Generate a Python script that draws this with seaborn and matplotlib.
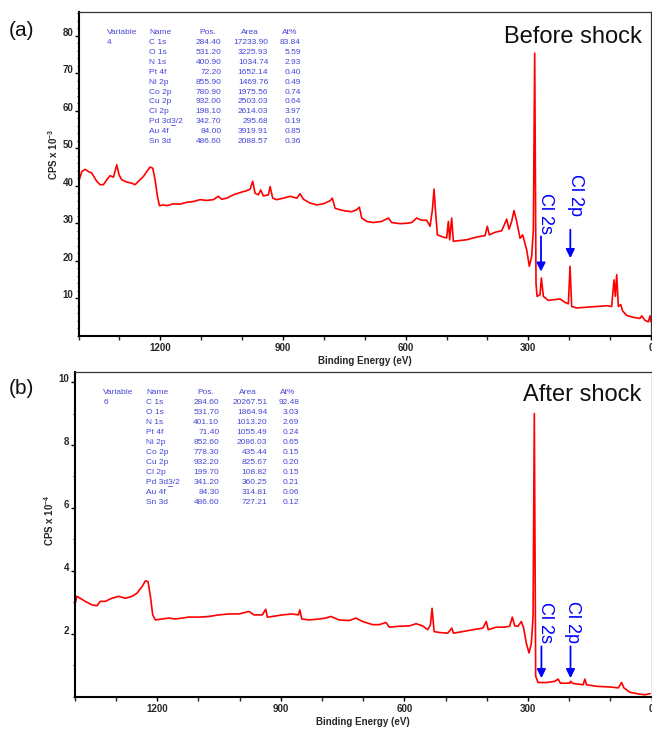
import matplotlib
matplotlib.use("Agg")
import matplotlib.pyplot as plt
import seaborn as sns
import pandas as pd
from matplotlib.ticker import MultipleLocator, FixedLocator
from matplotlib.lines import Line2D

# Survey spectrum before shock: binding energy (eV) and intensity (CPS x 10^3)
be_before = [1399.4, 1392.0, 1383.9, 1375.7, 1367.6, 1355.3, 1347.2, 1339.1, 1330.9, 1322.7,
             1314.6, 1306.4, 1300.7, 1294.2, 1282.0, 1269.8, 1261.6, 1253.5, 1241.2, 1233.1,
             1224.9, 1218.4, 1212.7, 1207.0, 1202.1, 1192.4, 1184.2, 1167.9, 1151.6, 1135.3,
             1119.0, 1102.7, 1086.4, 1070.1, 1057.9, 1049.7, 1037.5, 1021.2, 1004.9, 988.6,
             980.4, 973.9, 968.2, 960.1, 954.4, 947.9, 935.6, 931.5, 925.0, 915.2,
             898.9, 882.6, 866.3, 858.2, 850.0, 833.7, 817.4, 801.2, 784.8, 779.2,
             772.6, 760.4, 748.2, 731.9, 719.6, 713.1, 707.4, 695.2, 678.9, 658.5,
             642.2, 634.1, 613.7, 597.4, 585.2, 572.9, 560.7, 548.5, 540.3, 534.6,
             530.6, 526.5, 522.4, 507.8, 499.6, 495.5, 492.3, 487.4, 483.3, 467.0,
             450.7, 434.4, 418.1, 405.9, 400.2, 395.3, 381.4, 365.1, 352.9, 347.2,
             340.7, 335.0, 328.4, 320.3, 313.8, 304.0, 297.5, 291.8, 287.7, 284.4,
             281.2, 278.7, 271.4, 268.1, 263.2, 251.0, 238.8, 222.5, 210.3, 202.1,
             198.0, 194.0, 181.7, 157.3, 132.8, 108.4, 96.2, 90.5, 87.2, 83.9,
             79.9, 74.2, 69.3, 59.5, 43.2, 26.9, 22.8, 14.7, 6.5, 2.4, 0.2]
cps_before = [41.2, 43.8, 44.4, 43.8, 43.4, 41.2, 40.3, 40.3, 41.6, 42.7,
              42.3, 45.6, 42.9, 41.6, 41.0, 40.7, 40.3, 41.2, 42.5, 43.8,
              45.0, 44.7, 41.6, 37.2, 34.7, 34.9, 34.7, 35.2, 35.1, 35.6,
              35.8, 36.3, 36.1, 36.3, 37.2, 36.4, 36.7, 37.6, 38.2, 38.7,
              39.1, 41.2, 38.0, 37.6, 38.9, 37.3, 37.6, 39.8, 36.7, 36.3,
              36.7, 37.2, 36.7, 37.9, 36.4, 35.4, 34.9, 35.2, 36.0, 36.7,
              34.0, 33.6, 33.3, 33.1, 33.6, 34.3, 31.4, 30.5, 30.2, 30.5,
              31.4, 30.2, 29.9, 30.0, 30.2, 31.4, 30.8, 30.8, 29.2, 33.6,
              39.1, 32.6, 26.9, 26.3, 26.1, 30.5, 25.6, 31.4, 25.2, 25.4,
              25.6, 26.1, 26.5, 26.7, 29.2, 26.9, 27.6, 28.0, 31.1, 28.4,
              30.5, 33.4, 30.5, 26.0, 26.9, 22.9, 18.5, 21.2, 28.3, 75.4,
              14.0, 10.5, 10.9, 15.4, 10.5, 9.4, 9.6, 9.8, 8.9, 8.5,
              18.5, 7.8, 7.4, 7.6, 7.8, 8.0, 7.8, 14.9, 10.5, 16.3,
              7.8, 8.3, 6.6, 5.4, 4.9, 4.6, 5.3, 4.1, 3.7, 5.3, 3.7]

# Survey spectrum after shock: binding energy (eV) and intensity (CPS x 10^4)
be_after = [1399.5, 1394.8, 1386.7, 1374.5, 1358.3, 1346.1, 1338.0, 1325.8, 1309.6, 1293.4,
            1277.2, 1260.9, 1248.8, 1236.6, 1228.5, 1222.0, 1216.3, 1210.7, 1204.2, 1188.0,
            1171.7, 1155.5, 1139.3, 1123.1, 1098.7, 1074.4, 1050.1, 1025.8, 1001.4, 977.1,
            964.9, 944.7, 936.5, 932.5, 920.3, 896.0, 871.7, 857.1, 853.8, 848.9,
            831.1, 806.8, 790.6, 778.4, 758.1, 733.8, 717.6, 701.4, 677.0, 660.8,
            644.6, 636.5, 612.1, 587.8, 571.6, 555.4, 543.2, 536.7, 532.7, 527.8,
            514.8, 494.5, 484.8, 480.8, 458.1, 433.7, 409.4, 401.3, 396.4, 376.9,
            356.7, 344.5, 338.0, 332.3, 324.2, 316.1, 310.5, 304.0, 297.5, 291.8,
            287.7, 284.6, 281.3, 275.6, 255.3, 235.0, 226.9, 221.2, 198.5, 196.9,
            190.4, 166.1, 162.0, 158.0, 133.6, 101.2, 80.9, 72.8, 67.2, 52.6,
            28.2, 16.1, 3.9]
cps_after = [2.92, 3.19, 3.13, 3.03, 2.92, 2.89, 3.03, 3.03, 3.13, 3.19,
             3.13, 3.19, 3.29, 3.50, 3.68, 3.66, 3.19, 2.60, 2.44, 2.47,
             2.50, 2.47, 2.50, 2.53, 2.53, 2.55, 2.60, 2.63, 2.63, 2.71,
             2.60, 2.60, 2.78, 2.53, 2.55, 2.60, 2.63, 2.60, 2.76, 2.47,
             2.44, 2.47, 2.50, 2.55, 2.44, 2.42, 2.50, 2.39, 2.29, 2.29,
             2.36, 2.21, 2.24, 2.25, 2.32, 2.25, 2.13, 2.29, 2.81, 2.07,
             2.04, 2.02, 2.18, 2.02, 2.07, 2.13, 2.18, 2.39, 2.13, 2.21,
             2.21, 2.24, 2.53, 2.25, 2.24, 2.39, 2.18, 1.70, 1.39, 1.70,
             2.55, 9.00, 0.65, 0.45, 0.45, 0.49, 0.56, 0.43, 0.43, 0.49,
             0.42, 0.38, 0.56, 0.38, 0.33, 0.31, 0.28, 0.45, 0.28, 0.14,
             0.08, 0.06, 0.10]

# Peak quantification tables
peak_names = ["C 1s", "O 1s", "N 1s", "Pt 4f", "Ni 2p", "Co 2p", "Cu 2p", "Cl 2p",
              "Pd 3d3/2", "Au 4f", "Sn 3d"]
pos_before = [284.40, 531.20, 400.90, 72.20, 855.90, 780.90, 932.00, 198.10, 342.70, 84.00, 486.60]
area_before = [17233.90, 3225.93, 1034.74, 1652.14, 1469.76, 1975.56, 2503.03, 2614.03,
               295.68, 3919.91, 2088.57]
at_before = [83.84, 5.59, 2.93, 0.40, 0.49, 0.74, 0.64, 3.97, 0.19, 0.85, 0.36]
pos_after = [284.60, 531.70, 401.10, 71.40, 852.60, 778.30, 932.20, 199.70, 341.20, 84.30, 486.60]
area_after = [20267.51, 1864.94, 1013.20, 1055.49, 2086.03, 435.44, 825.67, 108.82,
              360.25, 314.81, 727.21]
at_after = [92.48, 3.03, 2.69, 0.24, 0.65, 0.15, 0.20, 0.15, 0.21, 0.06, 0.12]
variable_ids = ["4", "6"]
x_ticks = [1200, 900, 600, 300, 0]

sns.set_theme(style="ticks")
plt.rcParams["font.family"] = ["Liberation Sans", "DejaVu Sans"]
plt.rcParams["mathtext.fontset"] = "custom"
plt.rcParams["mathtext.rm"] = "Liberation Sans"
plt.rcParams["mathtext.it"] = "Liberation Sans:italic"
plt.rcParams["mathtext.bf"] = "Liberation Sans:bold"

W, H = 652, 730
fig = plt.figure(figsize=(W / 100, H / 100), dpi=100)
fig.patch.set_facecolor("white")
renderer = fig.canvas.get_renderer()


def fx(px):
    return px / W


def fy(py):
    return 1 - py / H


def make_axes(left, top, right, bottom):
    return fig.add_axes([fx(left), fy(bottom), fx(right) - fx(left), fy(top) - fy(bottom)])


ax_a = make_axes(78.5, 12.3, 651, 335.7)
ax_b = make_axes(74.7, 371.7, 651.6, 696.7)

df_a = pd.DataFrame({"be": be_before, "cps": cps_before})
df_b = pd.DataFrame({"be": be_after, "cps": cps_after})

for ax, df in ((ax_a, df_a), (ax_b, df_b)):
    sns.lineplot(data=df, x="be", y="cps", ax=ax, color="#ff0000", lw=1.2,
                 sort=False, estimator=None)


def style_axes(ax, ymax, yticks, yminor, ylabel, label_y):
    ax.set_facecolor("white")
    ax.set_xlim(1400, 0)
    ax.set_ylim(0, ymax)
    ax.xaxis.set_major_locator(FixedLocator(x_ticks))
    ax.xaxis.set_minor_locator(MultipleLocator(100))
    ax.yaxis.set_major_locator(FixedLocator(yticks))
    ax.yaxis.set_minor_locator(MultipleLocator(yminor))
    ax.set_xticklabels([str(t) for t in x_ticks])
    ax.set_yticklabels([str(t) for t in yticks])
    ax.tick_params(axis="both", which="major", direction="out", length=3.2, width=1.0,
                   labelsize=7, color="black")
    ax.tick_params(axis="x", which="minor", direction="out", length=3.2, width=1.0)
    ax.tick_params(axis="y", which="minor", direction="out", length=1.8, width=0.8)
    ax.tick_params(axis="x", which="major", pad=2.3)
    ax.tick_params(axis="y", which="major", pad=0.5)
    for lab in ax.get_xticklabels() + ax.get_yticklabels():
        lab.set_fontweight("bold")
    for lab in ax.get_yticklabels():
        lab.set_verticalalignment("baseline")
    ax.set_xlabel("Binding Energy (eV)", fontsize=7, fontweight="bold", labelpad=2)
    ax.set_ylabel(ylabel, fontsize=7, fontweight="bold")
    ax.yaxis.set_label_coords(-0.033, label_y)
    for side in ("left", "bottom"):
        ax.spines[side].set_linewidth(1.5)
        ax.spines[side].set_color("black")
    for side in ("top", "right"):
        ax.spines[side].set_linewidth(0.9)
        ax.spines[side].set_color("#333333")
    ax.grid(False)


style_axes(ax_a, 86.3, list(range(10, 81, 10)), 2, r"CPS x 10$^{\mathbf{-3}}$", 0.56)
style_axes(ax_b, 10.33, [2, 4, 6, 8, 10], 1, r"CPS x 10$^{\mathbf{-4}}$", 0.544)

# Panel letters and titles
fig.text(fx(9), fy(31), "(a)", fontsize=15, ha="left", va="center", color="#111111")
fig.text(fx(9), fy(388), "(b)", fontsize=15, ha="left", va="center", color="#111111")
fig.text(fx(641.7), fy(43.3), "Before shock", fontsize=17, ha="right", va="baseline",
         color="#111111")
fig.text(fx(641.7), fy(400.7), "After shock", fontsize=17, ha="right", va="baseline",
         color="#111111")

# Quantification tables
table_color = "#4646d8"
TABLE_FS = 6


def underline_char(x_left, y_center, prefix, char):
    """Underline one character that follows `prefix` in a left-aligned table entry."""
    probe = fig.text(fx(x_left), fy(y_center), prefix, fontsize=TABLE_FS, ha="left",
                     va="center")
    w0 = probe.get_window_extent(renderer).width
    probe.set_text(prefix + char)
    w1 = probe.get_window_extent(renderer).width
    probe.remove()
    y = fy(y_center + 3.2)
    fig.add_artist(Line2D([fx(x_left + w0 + 0.3), fx(x_left + w1 - 0.3)], [y, y], lw=0.6,
                          color=table_color, transform=fig.transFigure))


def draw_table(var_id, pos, area, at, cols, y_head, y0, dy):
    fs = TABLE_FS
    fig.text(fx(cols["var"]), fy(y_head), "Variable", fontsize=fs, color=table_color,
             ha="left", va="center")
    fig.text(fx(cols["var"]), fy(y0), var_id, fontsize=fs, color=table_color,
             ha="left", va="center")
    fig.text(fx(cols["name"]), fy(y_head), "Name", fontsize=fs, color=table_color,
             ha="left", va="center")
    fig.text(fx(cols["pos_h"]), fy(y_head), "Pos.", fontsize=fs, color=table_color,
             ha="center", va="center")
    fig.text(fx(cols["area_h"]), fy(y_head), "Area", fontsize=fs, color=table_color,
             ha="center", va="center")
    fig.text(fx(cols["at_h"]), fy(y_head), "At%", fontsize=fs, color=table_color,
             ha="center", va="center")
    for i, name in enumerate(peak_names):
        yc = y0 + i * dy
        y = fy(yc)
        fig.text(fx(cols["name"]), y, name, fontsize=fs, color=table_color,
                 ha="left", va="center")
        if name.startswith("Pd 3d"):
            underline_char(cols["name"], yc, "Pd 3d", "3")
        fig.text(fx(cols["pos"]), y, f"{pos[i]:.2f}", fontsize=fs, color=table_color,
                 ha="right", va="center")
        fig.text(fx(cols["area"]), y, f"{area[i]:.2f}", fontsize=fs, color=table_color,
                 ha="right", va="center")
        fig.text(fx(cols["at"]), y, f"{at[i]:.2f}", fontsize=fs, color=table_color,
                 ha="right", va="center")


draw_table(variable_ids[0], pos_before, area_before, at_before,
           dict(var=106.7, name=149, pos_h=208, pos=221.7, area_h=250, area=268.3,
                at_h=290, at=301), 32.7, 42.3, 9.94)
draw_table(variable_ids[1], pos_after, area_after, at_after,
           dict(var=103.3, name=146, pos_h=205.7, pos=219.3, area_h=248.3, area=267.3,
                at_h=288, at=299.3), 392.7, 402.3, 10.0)

# Chlorine peak markers
arrow_kw = dict(arrowstyle="-|>", color="#0000ff", lw=1.3, mutation_scale=13,
                shrinkA=0, shrinkB=0)
cl_marks = [
    (ax_a, "Cl 2s", 257.5, 32.7, 269.0, 26.5, 17.1),
    (ax_a, "Cl 2p", 185.8, 37.6, 197.3, 28.3, 20.7),
    (ax_b, "Cl 2s", 258.6, 2.37, 267.4, 1.60, 0.59),
    (ax_b, "Cl 2p", 191.7, 2.37, 196.8, 1.60, 0.59),
]
for ax, label, tx, ty, axx, y_start, y_tip in cl_marks:
    ax.text(tx, ty, label, rotation=270, fontsize=13, color="#0000ff",
            ha="center", va="center")
    ax.annotate("", xy=(axx, y_tip), xytext=(axx, y_start), arrowprops=arrow_kw)

fig.savefig("out.png", dpi=100, facecolor="white")
